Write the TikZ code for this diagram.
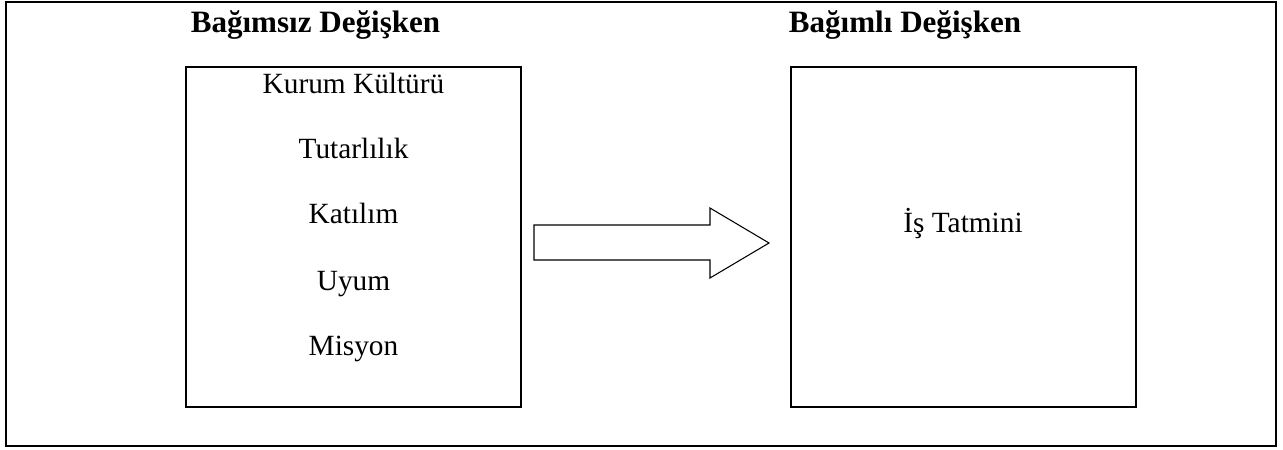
\documentclass[tikz,border=0pt]{standalone}
\usepackage{fontspec}
\setmainfont{Liberation Serif}
\begin{document}
\begin{tikzpicture}[x=0.75pt,y=-0.75pt,
  frame/.style={draw=black,line width=1.5pt},
  varbox/.style={draw=black,line width=1.5pt,minimum height=340*0.75pt,inner sep=0pt},
  heading/.style={font=\fontsize{23.3}{28}\selectfont\bfseries,anchor=base,inner sep=0pt},
  item/.style={font=\fontsize{22}{26}\selectfont,anchor=base,inner sep=0pt},
  bigarrow/.style={draw=black,line width=0.8pt,fill=white,line join=miter}]
\useasboundingbox (0,0) rectangle (1283,450);
\draw[frame] (6,2) rectangle (1276,446);
\node[varbox,minimum width=335*0.75pt] (indep) at (353.5,237) {};
\node[varbox,minimum width=345*0.75pt] (dep) at (963.5,237) {};
\node[heading] (h1) at (315.5,32) {Bağımsız Değişken};
\node[heading] (h2) at (905,32) {Bağımlı Değişken};
\node[item] (k1) at (353.5,93) {Kurum Kültürü};
\node[item] (k2) at (353.5,158) {Tutarlılık};
\node[item] (k3) at (353.5,223) {Katılım};
\node[item] (k4) at (353.5,290) {Uyum};
\node[item] (k5) at (353.5,355) {Misyon};
\node[item] (d1) at (963,232) {İş Tatmini};
\draw[bigarrow] (534,225) -- (710,225) -- (710,208) -- (769,243) -- (710,278) -- (710,260) -- (534,260) -- cycle;
\end{tikzpicture}
\end{document}
